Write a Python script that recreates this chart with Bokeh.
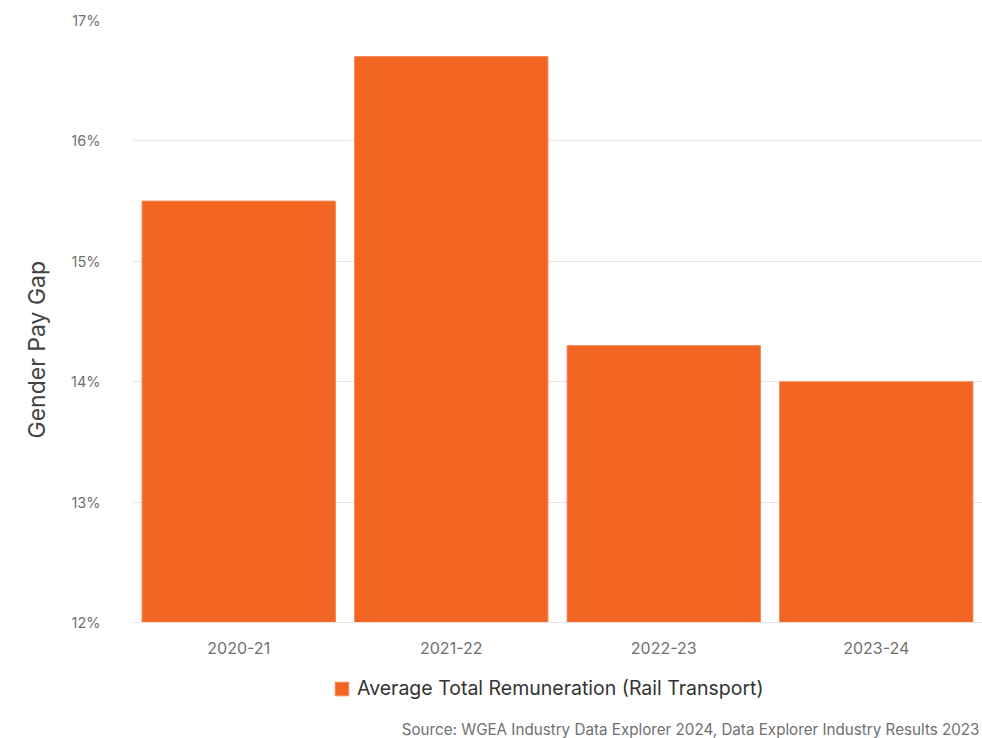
from bokeh.plotting import figure
from bokeh.layouts import column
from bokeh.models import (ColumnDataSource, Legend, LegendItem, Title, Label,
                          PrintfTickFormatter, FixedTicker, Range1d)
from bokeh.embed import file_html
from bokeh.resources import INLINE

categories = ["2020-21", "2021-22", "2022-23", "2023-24"]
values = [15.5, 16.7, 14.3, 14.0]
y_ticks = [12, 13, 14, 15, 16, 17]
series_name = "Average Total Remuneration (Rail Transport)"
y_title = "Gender Pay Gap"
source_note = "Source: WGEA Industry Data Explorer 2024, Data Explorer Industry Results 2023"

FONT = "Inter"
ORANGE = "#F26522"
EDGE = "#F58B57"

src = ColumnDataSource(dict(cat=categories, val=values))

p = figure(x_range=categories, y_range=Range1d(12, 17),
           width=982, height=660,
           output_backend="svg", toolbar_location=None,
           min_border_left=132, min_border_right=0, min_border_top=20,
           min_border_bottom=38)
p.outline_line_color = None
p.background_fill_color = "white"
p.border_fill_color = "white"

r = p.vbar(x="cat", top="val", bottom=12, width=0.91, source=src,
           fill_color=ORANGE, line_color=EDGE, line_width=1)

p.x_range.range_padding = 0.0
p.xgrid.grid_line_color = None
p.ygrid.grid_line_color = "#e6e6e6"
p.ygrid.grid_line_width = 1

p.yaxis.ticker = FixedTicker(ticks=y_ticks)
p.yaxis.formatter = PrintfTickFormatter(format="%d%%")
p.yaxis.axis_line_color = None
p.yaxis.major_tick_line_color = None
p.yaxis.minor_tick_line_color = None
p.yaxis.major_label_text_font = FONT
p.yaxis.major_label_text_font_size = "14.5px"
p.yaxis.major_label_text_color = "#707070"
p.yaxis.major_label_standoff = 26

p.xaxis.axis_line_color = "#e6e6e6"
p.xaxis.major_tick_line_color = None
p.xaxis.minor_tick_line_color = None
p.xaxis.major_label_text_font = FONT
p.xaxis.major_label_text_font_size = "16px"
p.xaxis.major_label_text_color = "#707070"
p.xaxis.major_label_standoff = 13

ytitle = Title(text=y_title, align="left", text_font=FONT,
               text_font_size="23px", text_color="#444444",
               text_font_style="normal", offset=184, standoff=33)
p.add_layout(ytitle, "left")

# lower strip: legend and source note (frame aligned with main plot frame)
p2 = figure(width=982, height=78, x_range=Range1d(0, 1), y_range=Range1d(0, 1),
            output_backend="svg", toolbar_location=None,
            min_border=0)
p2.outline_line_color = None
p2.axis.visible = False
p2.grid.visible = False
p2.border_fill_color = "white"
proxy = p2.vbar(x=[float("nan")], top=[float("nan")], width=1,
                fill_color=ORANGE, line_color=EDGE)

legend = Legend(items=[LegendItem(label=series_name, renderers=[proxy])],
                orientation="horizontal", location=(201, 38),
                label_text_font=FONT, label_text_font_size="19.5px",
                label_text_color="#333333", glyph_width=17, glyph_height=17,
                border_line_color=None, background_fill_alpha=0,
                margin=0, padding=6, label_standoff=7)
p2.add_layout(legend)

src_lab = Label(x=847, y=9, x_units="screen", y_units="screen",
                text=source_note, text_font=FONT, text_font_size="15.2px",
                text_color="#707070", text_align="right",
                text_baseline="alphabetic")
p2.add_layout(src_lab)

layout = column(p, p2, spacing=0)
open("out.html", "w").write(file_html(layout, INLINE))
